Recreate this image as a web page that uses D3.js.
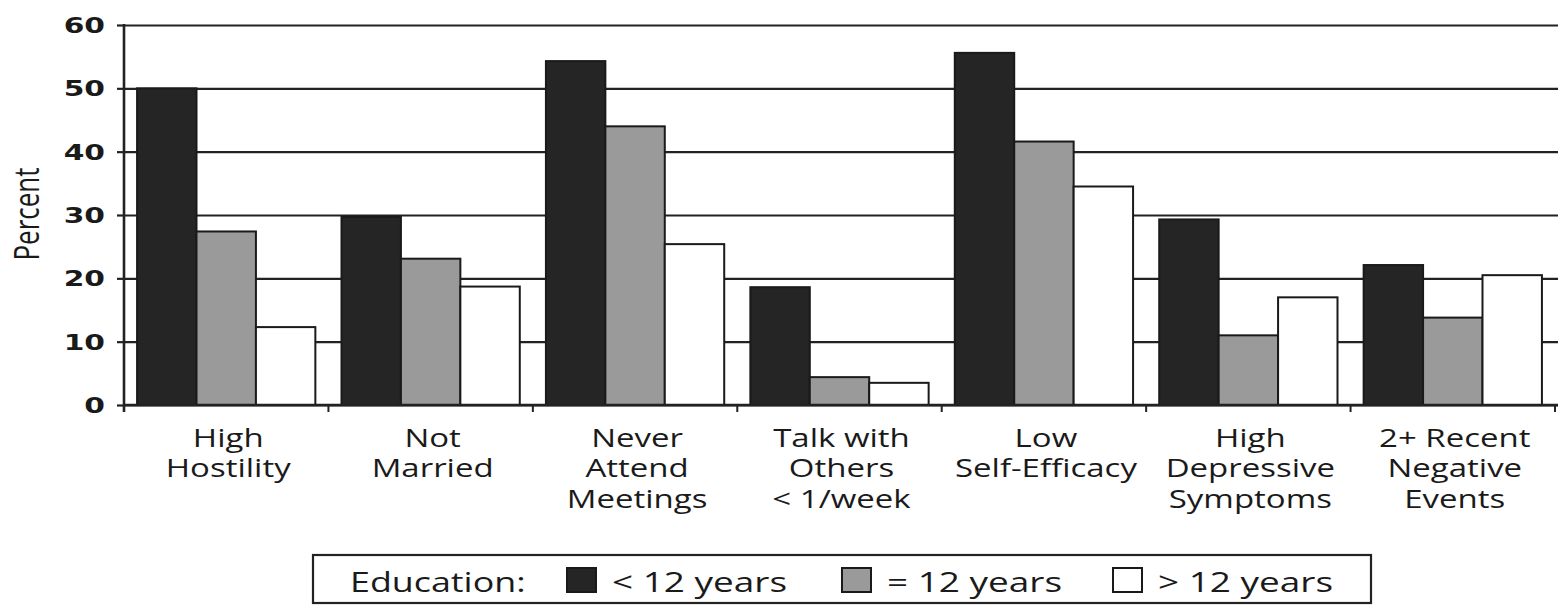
<!DOCTYPE html>
<html>
<head>
<meta charset="utf-8">
<script src="https://cdn.jsdelivr.net/npm/d3@7"></script>
<style>
  html, body { margin: 0; padding: 0; background: #fff; }
  svg { display: block; }
</style>
</head>
<body>
<svg id="chart" width="1558" height="605"></svg>
<script>
const categories = [
  ["High", "Hostility"],
  ["Not", "Married"],
  ["Never", "Attend", "Meetings"],
  ["Talk with", "Others", "< 1/week"],
  ["Low", "Self-Efficacy"],
  ["High", "Depressive", "Symptoms"],
  ["2+ Recent", "Negative", "Events"]
];
const seriesNames = ["< 12 years", "= 12 years", "> 12 years"];
const lessThan12 = [50.0, 29.7, 54.3, 18.6, 55.6, 29.3, 22.1];
const equal12    = [27.4, 23.1, 44.0, 4.4, 41.6, 11.0, 13.8];
const moreThan12 = [12.3, 18.7, 25.4, 3.5, 34.5, 17.0, 20.5];
const yTicks = [0, 10, 20, 30, 40, 50, 60];
const legendTitle = "Education:";
const yLabel = "Percent";

(function () {
const colors = ["#252525", "#9a9a9a", "#ffffff"];
const seriesValues = [lessThan12, equal12, moreThan12];
const sx = 1.32;           // horizontal stretch of the lettering
const textFont = "'Open Sans', sans-serif";
const ink = "#1a1a1a";

const svg = d3.select("#chart");
const mLeft = 124, mRight = 1555, mTop = 25, mBottom = 405;

const catKeys = categories.map((c, i) => i);
const x = d3.scaleBand().domain(catKeys).range([mLeft, mRight]).padding(0);
const x1 = d3.scaleBand().domain([0, 1, 2]).range([0, x.bandwidth()]).paddingInner(0).paddingOuter(0.22);
const y = d3.scaleLinear().domain([0, 60]).range([mBottom, mTop]);

// gridlines (with outside tick stubs)
svg.append("g")
  .attr("transform", `translate(${mLeft},0)`)
  .call(d3.axisLeft(y).tickValues(yTicks).tickSize(7).tickFormat(""))
  .call(g => g.select(".domain").remove())
  .call(g => g.selectAll("line").attr("stroke", "#222").attr("stroke-width", 2.2));
svg.append("g")
  .attr("transform", `translate(${mLeft},0)`)
  .call(d3.axisRight(y).tickValues(yTicks).tickSize(1558 - mLeft).tickFormat(""))
  .call(g => g.select(".domain").remove())
  .call(g => g.selectAll("line").attr("stroke", "#222").attr("stroke-width", 2.2));

// bars
const groups = svg.append("g").selectAll("g")
  .data(catKeys).join("g")
  .attr("transform", d => `translate(${x(d)},0)`);

groups.selectAll("rect")
  .data(ci => seriesValues.map((vals, si) => ({ si, v: vals[ci] })))
  .join("rect")
  .attr("x", d => x1(d.si))
  .attr("width", x1.bandwidth())
  .attr("y", d => y(d.v))
  .attr("height", d => y(0) - y(d.v))
  .attr("fill", d => colors[d.si])
  .attr("stroke", ink)
  .attr("stroke-width", 2);

// y tick labels
svg.append("g").selectAll("g")
  .data(yTicks).join("g")
  .attr("transform", d => `translate(105,${y(d)}) scale(1.35,1)`)
  .append("text")
  .attr("text-anchor", "end")
  .attr("dy", "0.36em")
  .attr("font-family", "'DejaVu Sans', sans-serif")
  .attr("font-weight", "bold")
  .attr("font-size", 22)
  .attr("fill", ink)
  .text(d => d);

// y axis line
svg.append("line")
  .attr("x1", mLeft).attr("x2", mLeft)
  .attr("y1", y(60) - 1).attr("y2", mBottom + 7)
  .attr("stroke", "#222").attr("stroke-width", 2.6);

// x axis
svg.append("line")
  .attr("x1", mLeft).attr("x2", 1558)
  .attr("y1", mBottom).attr("y2", mBottom)
  .attr("stroke", "#222").attr("stroke-width", 2.4);

const boundaries = catKeys.map(k => x(k)).concat([mRight]);
svg.append("g").selectAll("line")
  .data(boundaries).join("line")
  .attr("x1", d => d).attr("x2", d => d)
  .attr("y1", mBottom).attr("y2", mBottom + 7)
  .attr("stroke", "#222").attr("stroke-width", 2);

// category labels
const catLabels = svg.append("g").selectAll("g")
  .data(catKeys).join("g")
  .attr("transform", d => `translate(${x(d) + x.bandwidth() / 2 + 2},447) scale(${sx},1)`)
  .append("text")
  .attr("text-anchor", "middle")
  .attr("font-family", textFont)
  .attr("font-size", 25)
  .attr("fill", ink);
catLabels.selectAll("tspan")
  .data(d => categories[d].map((line, i) => ({ line, i })))
  .join("tspan")
  .attr("x", 0)
  .attr("dy", d => d.i === 0 ? 0 : 30.5)
  .text(d => d.line);

// y label
svg.append("text")
  .attr("transform", `translate(39,214) scale(${sx},1) rotate(-90)`)
  .attr("text-anchor", "middle")
  .attr("font-family", textFont)
  .attr("font-size", 26)
  .attr("fill", ink)
  .text(yLabel);

// legend
const legend = svg.append("g");
legend.append("rect")
  .attr("x", 313).attr("y", 555).attr("width", 1058).attr("height", 48)
  .attr("fill", "#fff").attr("stroke", "#222").attr("stroke-width", 2.2);

legend.append("g")
  .attr("transform", `translate(350,592) scale(1.28,1)`)
  .append("text")
  .attr("font-family", textFont)
  .attr("font-size", 28)
  .attr("fill", ink)
  .text(legendTitle);

const legendX = [567, 842, 1113];
seriesNames.forEach((name, i) => {
  legend.append("rect")
    .attr("x", legendX[i]).attr("y", 568)
    .attr("width", 29).attr("height", 24)
    .attr("fill", colors[i]).attr("stroke", ink).attr("stroke-width", 2);
  legend.append("g")
    .attr("transform", `translate(${legendX[i] + 45},592) scale(${sx},1)`)
    .append("text")
    .attr("font-family", textFont)
    .attr("font-size", 28)
    .attr("fill", ink)
    .text(name);
});
})();
</script>
</body>
</html>
